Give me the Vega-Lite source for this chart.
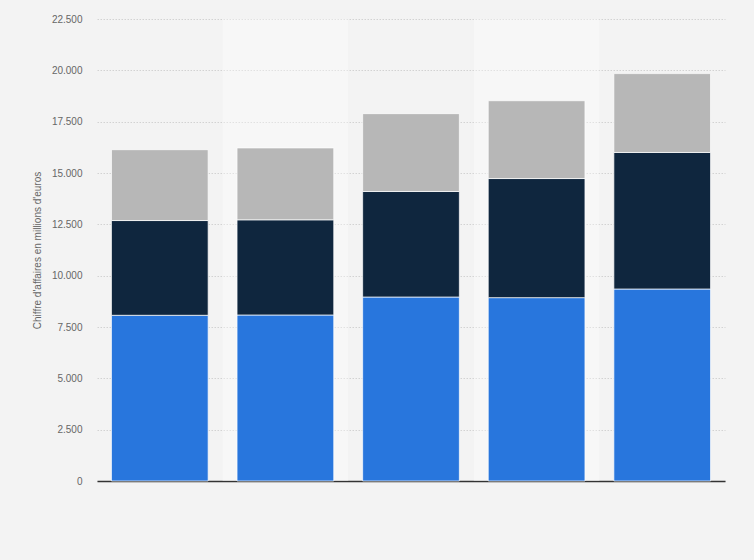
{
  "$schema": "https://vega.github.io/schema/vega-lite/v6.json",
  "width": 628,
  "height": 462,
  "autosize": "none",
  "padding": {"left": 97, "top": 19, "right": 29, "bottom": 79},
  "background": "#f3f3f3",
  "config": {"view": {"stroke": null}, "font": "Liberation Sans"},
  "datasets": {
    "bandes": [{"annee": "2017"}, {"annee": "2019"}],
    "ventes": [
      {"annee": "2016", "segment": "Segment 1", "valeur": 8070},
      {"annee": "2016", "segment": "Segment 2", "valeur": 4615},
      {"annee": "2016", "segment": "Segment 3", "valeur": 3450},
      {"annee": "2017", "segment": "Segment 1", "valeur": 8085},
      {"annee": "2017", "segment": "Segment 2", "valeur": 4635},
      {"annee": "2017", "segment": "Segment 3", "valeur": 3500},
      {"annee": "2018", "segment": "Segment 1", "valeur": 8960},
      {"annee": "2018", "segment": "Segment 2", "valeur": 5140},
      {"annee": "2018", "segment": "Segment 3", "valeur": 3790},
      {"annee": "2019", "segment": "Segment 1", "valeur": 8930},
      {"annee": "2019", "segment": "Segment 2", "valeur": 5800},
      {"annee": "2019", "segment": "Segment 3", "valeur": 3790},
      {"annee": "2020", "segment": "Segment 1", "valeur": 9350},
      {"annee": "2020", "segment": "Segment 2", "valeur": 6650},
      {"annee": "2020", "segment": "Segment 3", "valeur": 3840}
    ]
  },
  "layer": [
    {
      "data": {"name": "bandes"},
      "mark": {"type": "bar", "color": "#ffffff", "opacity": 0.35},
      "encoding": {
        "x": {
          "field": "annee",
          "type": "nominal",
          "scale": {"domain": ["2016", "2017", "2018", "2019", "2020"], "paddingInner": 0, "paddingOuter": 0},
          "axis": null
        },
        "y": {
          "datum": 22500,
          "type": "quantitative",
          "scale": {"domain": [0, 22500]},
          "axis": {
            "values": [0, 2500, 5000, 7500, 10000, 12500, 15000, 17500, 20000, 22500],
            "labelExpr": "replace(format(datum.value, ','), ',', '.')",
            "labelFontSize": 10,
            "labelColor": "#666666",
            "labelPadding": 15,
            "ticks": false,
            "domain": false,
            "grid": true,
            "gridColor": "#d2d2d2",
            "gridDash": [1.5, 1.5],
            "gridWidth": 1,
            "title": "Chiffre d'affaires en millions d'euros",
            "titleFontSize": 10,
            "titleFontWeight": "normal",
            "titleColor": "#666666",
            "titlePadding": 9
          }
        }
      }
    },
    {
      "data": {"name": "ventes"},
      "mark": {"type": "bar", "stroke": "#ffffff", "strokeWidth": 1, "strokeOpacity": 0.7},
      "encoding": {
        "x": {
          "field": "annee",
          "type": "nominal",
          "scale": {"domain": ["2016", "2017", "2018", "2019", "2020"], "paddingInner": 0.23, "paddingOuter": 0.115},
          "axis": {"labels": false, "ticks": false, "title": null, "grid": false, "domainColor": "#333333", "domainWidth": 1.5}
        },
        "y": {
          "field": "valeur",
          "type": "quantitative",
          "stack": "zero",
          "scale": {"domain": [0, 22500]},
          "axis": {
            "values": [0, 2500, 5000, 7500, 10000, 12500, 15000, 17500, 20000, 22500],
            "labelExpr": "replace(format(datum.value, ','), ',', '.')",
            "labelFontSize": 10,
            "labelColor": "#666666",
            "labelPadding": 15,
            "ticks": false,
            "domain": false,
            "grid": true,
            "gridColor": "#d2d2d2",
            "gridDash": [1.5, 1.5],
            "gridWidth": 1,
            "title": "Chiffre d'affaires en millions d'euros",
            "titleFontSize": 10,
            "titleFontWeight": "normal",
            "titleColor": "#666666",
            "titlePadding": 9
          }
        },
        "color": {
          "field": "segment",
          "type": "nominal",
          "scale": {"domain": ["Segment 1", "Segment 2", "Segment 3"], "range": ["#2876dd", "#0f263e", "#b7b7b7"]},
          "legend": null
        },
        "order": {"field": "segment", "sort": "ascending"}
      }
    }
  ],
  "resolve": {"scale": {"x": "independent"}}
}
